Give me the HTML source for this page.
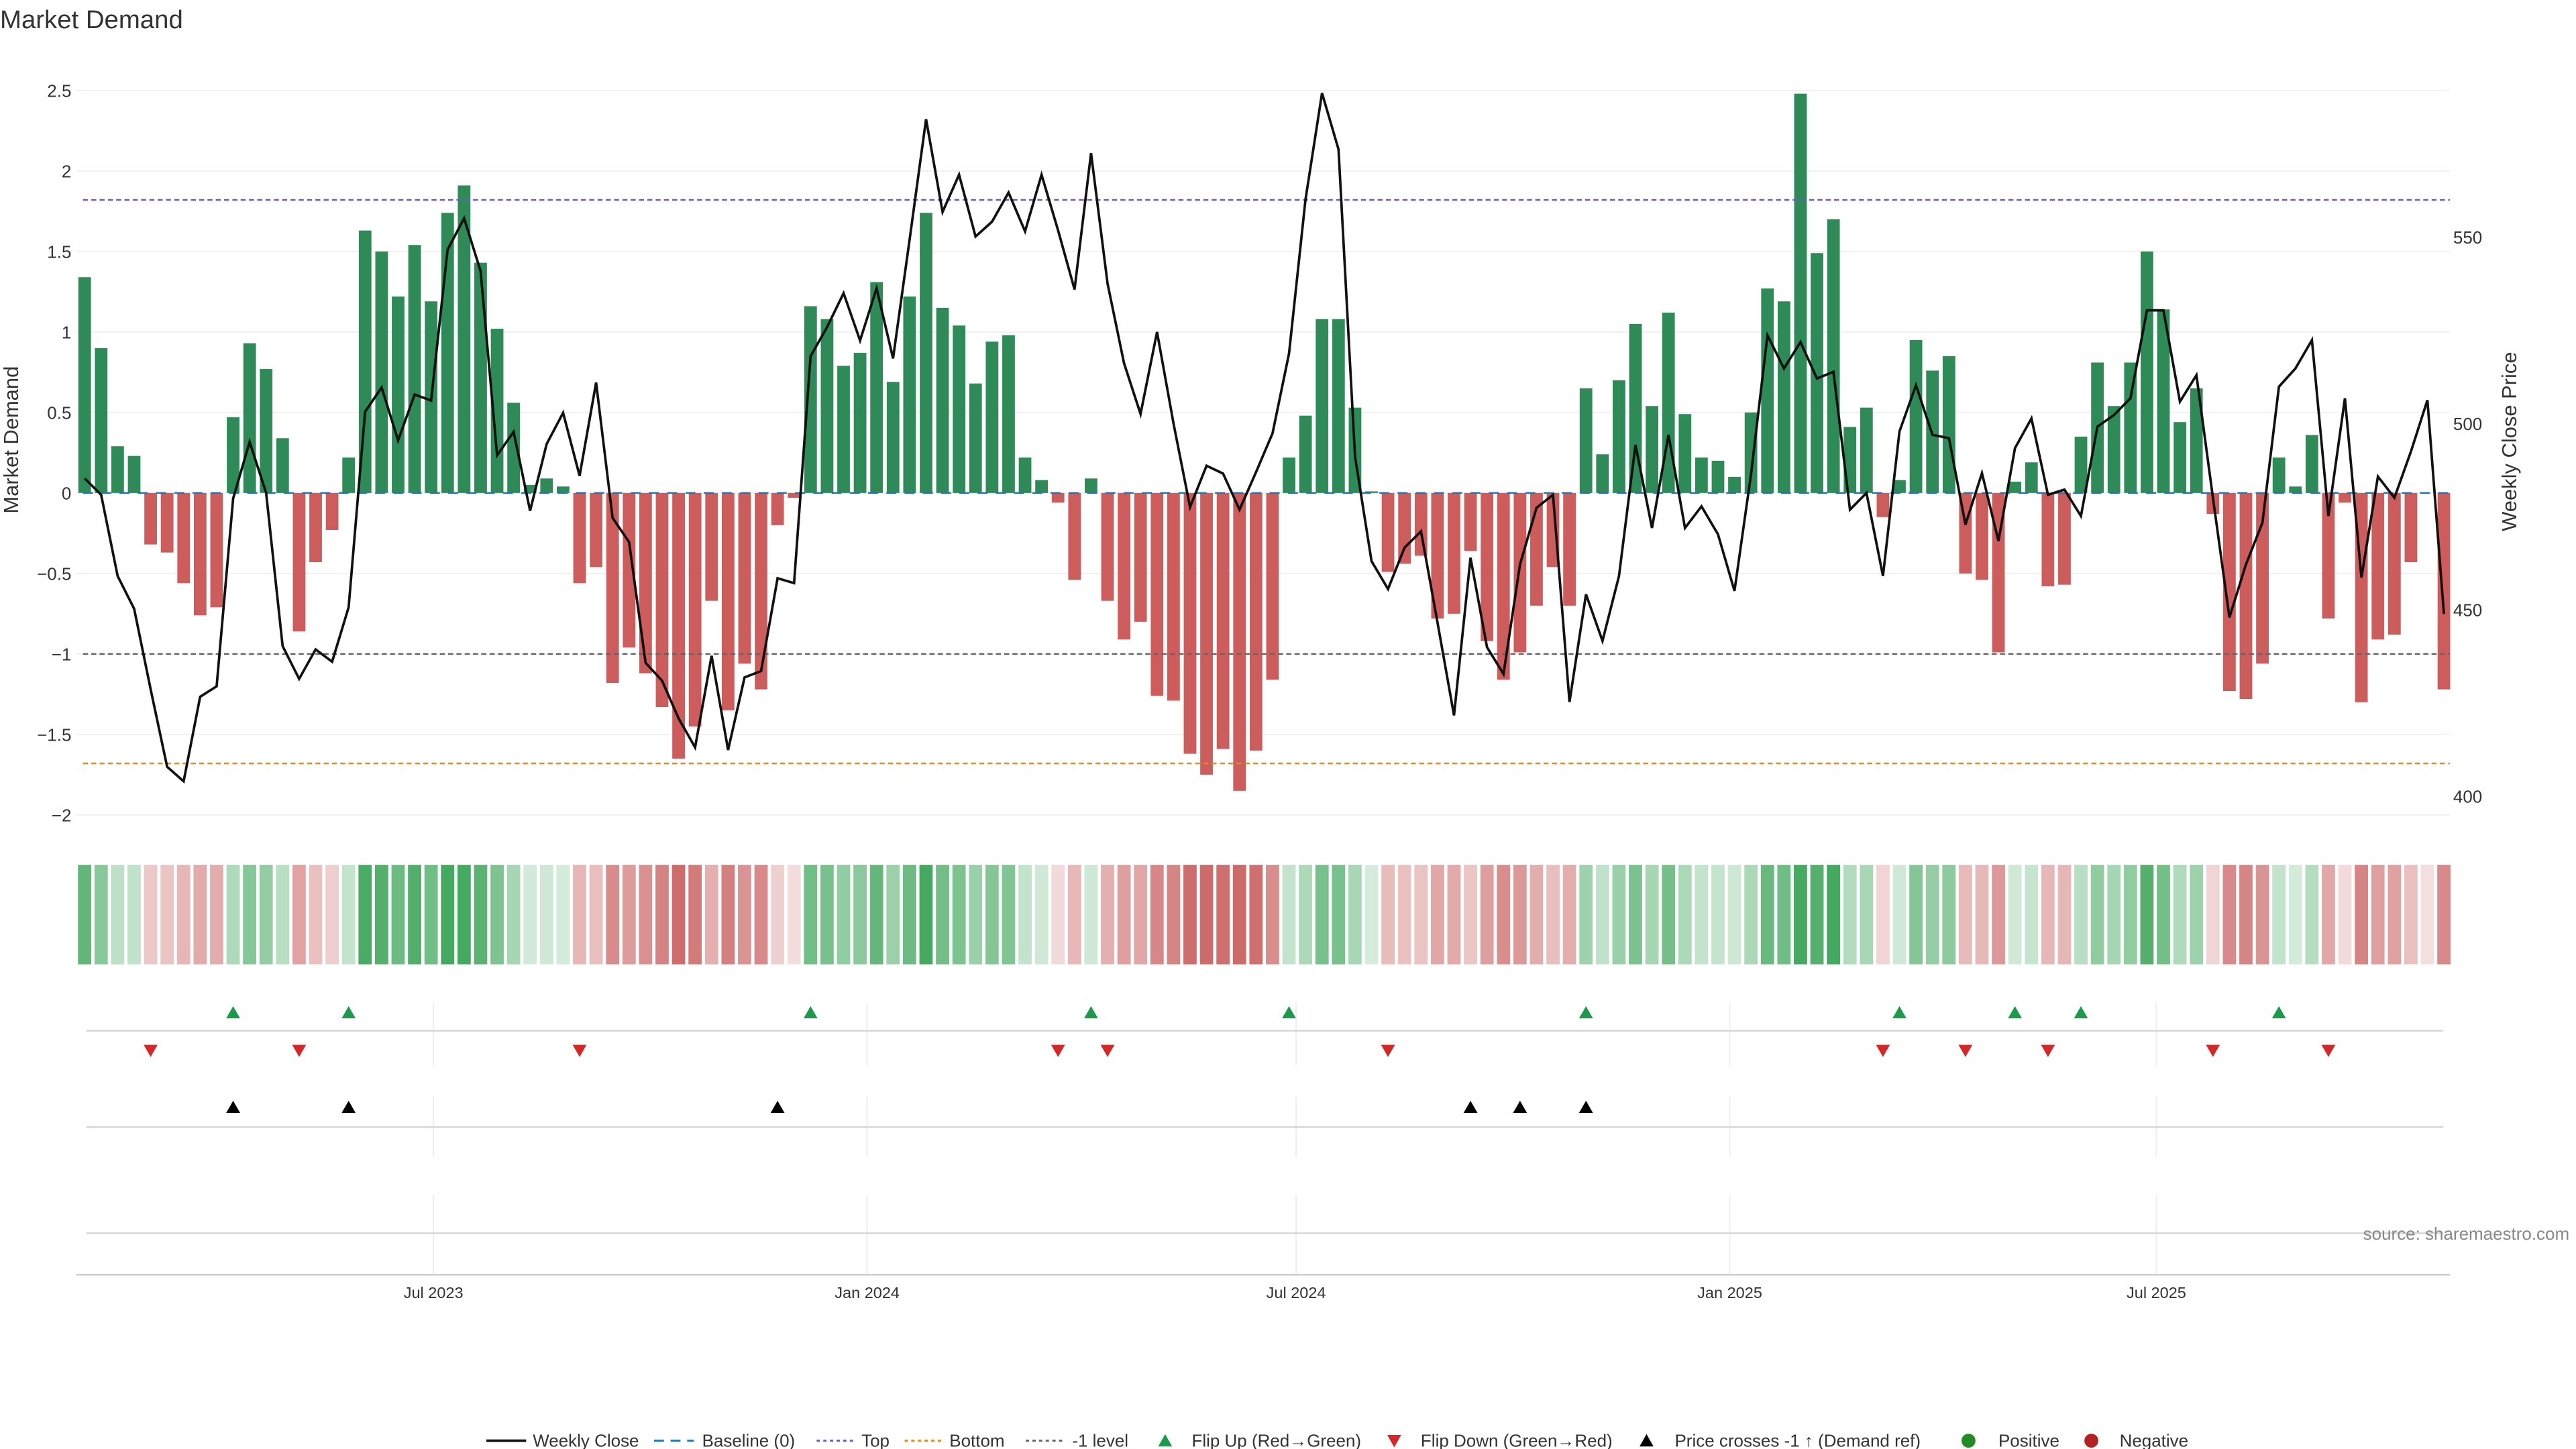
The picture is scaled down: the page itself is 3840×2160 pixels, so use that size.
<!DOCTYPE html>
<html><head><meta charset="utf-8">
<style>
html,body{margin:0;padding:0;background:#fff;}
svg{display:block;font-family:"Liberation Sans","DejaVu Sans",sans-serif;}
</style></head>
<body>
<svg id="chart" width="3840" height="2160" viewBox="0 0 1552 873" xmlns="http://www.w3.org/2000/svg">
<text x="0" y="17" font-size="15.5" fill="#333">Market Demand</text>
<g id="grid"></g>
<g id="bars"></g>
<g id="refs"></g>
<g id="line"></g>
<g id="axes"></g>
<g id="heat"></g>
<g id="events"></g>
<text x="1548" y="747" font-size="10.5" fill="#888" text-anchor="end">source: sharemaestro.com</text>
<g id="legend"></g>
</svg>
<script>
const demand = [1.34,0.90,0.29,0.23,-0.32,-0.37,-0.56,-0.76,-0.71,0.47,0.93,0.77,0.34,-0.86,-0.43,-0.23,0.22,1.63,1.50,1.22,1.54,1.19,1.74,1.91,1.43,1.02,0.56,0.05,0.09,0.04,-0.56,-0.46,-1.18,-0.96,-1.12,-1.33,-1.65,-1.45,-0.67,-1.35,-1.06,-1.22,-0.20,-0.03,1.16,1.08,0.79,0.87,1.31,0.69,1.22,1.74,1.15,1.04,0.68,0.94,0.98,0.22,0.08,-0.06,-0.54,0.09,-0.67,-0.91,-0.80,-1.26,-1.29,-1.62,-1.75,-1.59,-1.85,-1.60,-1.16,0.22,0.48,1.08,1.08,0.53,0.01,-0.49,-0.44,-0.39,-0.78,-0.75,-0.36,-0.92,-1.16,-0.99,-0.70,-0.46,-0.70,0.65,0.24,0.70,1.05,0.54,1.12,0.49,0.22,0.20,0.10,0.50,1.27,1.19,2.48,1.49,1.70,0.41,0.53,-0.15,0.08,0.95,0.76,0.85,-0.50,-0.54,-0.99,0.07,0.19,-0.58,-0.57,0.35,0.81,0.54,0.81,1.50,1.14,0.44,0.65,-0.13,-1.23,-1.28,-1.06,0.22,0.04,0.36,-0.78,-0.06,-1.30,-0.91,-0.88,-0.43,0.00,-1.22];
const price = [485.2,480.8,459.0,450.2,428.6,407.8,403.9,426.6,429.4,479.8,495.0,481.3,440.2,431.4,439.3,436.0,450.6,503.1,509.6,495.4,507.7,506.1,546.6,555.0,540.8,491.4,497.7,476.5,494.4,502.8,485.9,510.9,474.6,468.1,435.7,430.9,420.8,413.0,437.6,412.3,431.8,433.5,458.4,457.1,518.0,525.8,534.9,522.2,536.2,517.4,549.2,581.6,556.7,566.7,550.1,554.1,561.9,551.5,566.7,551.8,535.9,572.5,537.5,516.1,502.5,524.5,499.9,477.5,488.6,486.5,476.8,486.9,497.3,518.7,560.1,588.6,573.5,491.1,463.0,455.5,466.6,471.0,446.5,421.6,463.9,439.9,432.7,462.1,477.3,480.8,425.2,454.1,441.6,459.0,494.2,471.9,496.9,471.9,477.7,470.2,455.0,486.2,523.6,514.7,521.8,512.0,513.8,476.8,481.3,459.0,497.8,510.2,496.9,496.0,472.8,486.6,468.4,493.3,501.3,480.8,482.2,475.1,499.1,502.2,506.7,530.3,530.3,505.8,512.9,480.0,447.9,462.1,473.3,509.8,514.7,522.3,475.1,506.7,458.6,485.7,480.0,492.4,506.2,448.8];
const priceCrossIdx = [9,16,42,84,87,91];
const demandTicks = [2.5,2,1.5,1,0.5,0,-0.5,-1,-1.5,-2];
const demandTickLabels = ["2.5","2","1.5","1","0.5","0","−0.5","−1","−1.5","−2"];
const priceTicks = [400,450,500,550];
const dateTicks = ["2023-07-01","2024-01-01","2024-07-01","2025-01-01","2025-07-01"];
const dateTickLabels = ["Jul 2023","Jan 2024","Jul 2024","Jan 2025","Jul 2025"];
const startDate = "2023-02-03";
const topLevel = 1.82, bottomLevel = -1.68, minusOneLevel = -1;

const NS = "http://www.w3.org/2000/svg";
const X0 = 51, STEP = 9.94, LEFT = 46, RIGHT = 1476;
function xIdx(i){ return X0 + i*STEP; }
function xDate(s){ return X0 + (new Date(s) - new Date(startDate))/864e5/7*STEP; }
function yD(v){ return 297 - 97*v; }
function yP(p){ return 255 - (p-500)*2.245; }
function mk(tag, attrs, parent){ const e=document.createElementNS(NS,tag); for(const k in attrs) e.setAttribute(k,attrs[k]); parent.appendChild(e); return e; }
const G = id => document.getElementById(id);

demandTicks.forEach((t,k)=>{
  const gl = mk('line',{x1:LEFT,x2:RIGHT,y1:yD(t),y2:yD(t),stroke:'#eef0f3','stroke-width':0.8},G('grid'));
  
  
  const tx = mk('text',{x:43,y:yD(t)+4,'font-size':10.5,fill:'#333','text-anchor':'end'},G('axes'));
  tx.textContent = demandTickLabels[k];
  
  
});
priceTicks.forEach(p=>{
  const tx = mk('text',{x:1478,y:yP(p)+4,'font-size':10.5,fill:'#333'},G('axes'));
  tx.textContent = p;
  
  
});
let t1 = mk('text',{x:0,y:0,'font-size':12.5,fill:'#333','text-anchor':'middle',transform:'translate(11,265) rotate(-90)'},G('axes'));
t1.textContent='Market Demand';


let t2 = mk('text',{x:0,y:0,'font-size':12.5,fill:'#333','text-anchor':'middle',transform:'translate(1516,266) rotate(-90)'},G('axes'));
t2.textContent='Weekly Close Price';



demand.forEach((v,i)=>{
  const y = Math.min(yD(v), yD(0)), h = Math.abs(yD(v)-yD(0));
  const b = mk('rect',{x:xIdx(i)-3.8,y:y,width:7.6,height:Math.max(h,0.01),fill:v>0?'#2e8b57':'#cd5c5c'},G('bars'));
  
  
});
function ref(v,color,dash,name){
  const l = mk('line',{x1:LEFT+4,x2:RIGHT,y1:yD(v),y2:yD(v),stroke:color,'stroke-width':1,'stroke-dasharray':dash},G('refs'));
  
  
}
ref(0,'#1f77b4','6 5','baseline-zero');
ref(topLevel,'#6a5acd','3 2','top-level-line');
ref(bottomLevel,'#e08a2c','3 2','bottom-level-line');
ref(minusOneLevel,'#666','3 2','minus-one-level-line');
const pl = mk('polyline',{points:price.map((p,i)=>xIdx(i)+','+yP(p)).join(' '),fill:'none',stroke:'#111','stroke-width':1.5,'stroke-linejoin':'miter'},G('line'));



demand.forEach((v,i)=>{
  const a = Math.min(0.9, 0.2 + 0.42*Math.abs(v));
  const c = v>0 ? 'rgba(50,160,80,'+a+')' : 'rgba(200,90,90,'+a+')';
  const r = mk('rect',{x:xIdx(i)-4,y:521,width:8,height:60,fill:c},G('heat'));
  
  
});

const ev = G('events');
[[604,642],[660,697],[720,768]].forEach(([a,b])=>{
  dateTicks.forEach(d=>{
    const l = mk('line',{x1:xDate(d),x2:xDate(d),y1:a,y2:b,stroke:'#eceef1','stroke-width':0.8},ev);
    
    
  });
});
[621,679,743].forEach(y=>{
  const l = mk('line',{x1:52,x2:1472,y1:y,y2:y,stroke:'#d4d6da','stroke-width':1},ev);
  
  
});
const ax = mk('line',{x1:LEFT,x2:RIGHT,y1:768,y2:768,stroke:'#ccc','stroke-width':1},ev);


function triUp(x,y,c){ return mk('path',{d:`M${x-4.2},${y+3.5}L${x+4.2},${y+3.5}L${x},${y-3.8}Z`,fill:c},ev); }
function triDown(x,y,c){ return mk('path',{d:`M${x-4.2},${y-3.5}L${x+4.2},${y-3.5}L${x},${y+3.8}Z`,fill:c},ev); }
for(let i=1;i<demand.length;i++){
  const prev = demand[i-1]>0, cur = demand[i]>0;
  if(!prev && cur){ const m=triUp(xIdx(i),610,'#1a9a4a');   }
  if(prev && !cur){ const m=triDown(xIdx(i),633,'#d62728');   }
}
priceCrossIdx.forEach(i=>{
  const m = triUp(xIdx(i),667,'#000');
  
  
});
dateTicks.forEach((d,k)=>{
  const t = mk('text',{x:xDate(d),y:782,'font-size':9.5,fill:'#333','text-anchor':'middle'},ev);
  t.textContent = dateTickLabels[k];
  
  
});

const lg = G('legend');
function ltext(x,s){ const t=mk('text',{x:x,y:871.5,'font-size':10.5,fill:'#333'},lg); t.textContent=s;   }
function lline(x,c,w,dash){ const l=mk('line',{x1:x,x2:x+24,y1:868,y2:868,stroke:c,'stroke-width':w,'stroke-dasharray':dash||'none'},lg);   }
lline(293,'#111',1.5); ltext(321,'Weekly Close');
lline(394,'#1f77b4',1.2,'6 4'); ltext(423,'Baseline (0)');
lline(492,'#6a5acd',1.2,'2 2'); ltext(519,'Top');
lline(545,'#e08a2c',1.2,'2 2'); ltext(572,'Bottom');
lline(618,'#666',1.2,'2 2'); ltext(646,'-1 level');
let m1=mk('path',{d:'M697.8,871.5L706.2,871.5L702,864Z',fill:'#1a9a4a'},lg);   ltext(718,'Flip Up (Red→Green)');
let m2=mk('path',{d:'M835.8,864.5L844.2,864.5L840,872Z',fill:'#d62728'},lg);   ltext(856,'Flip Down (Green→Red)');
let m3=mk('path',{d:'M987.8,871.5L996.2,871.5L992,864Z',fill:'#000'},lg);   ltext(1009,'Price crosses -1 ↑ (Demand ref)');
let c1=mk('circle',{cx:1186,cy:868,r:4.2,fill:'#228b22'},lg);   ltext(1204,'Positive');
let c2=mk('circle',{cx:1260,cy:868,r:4.2,fill:'#b22222'},lg);   ltext(1277,'Negative');
</script>
</body></html>
